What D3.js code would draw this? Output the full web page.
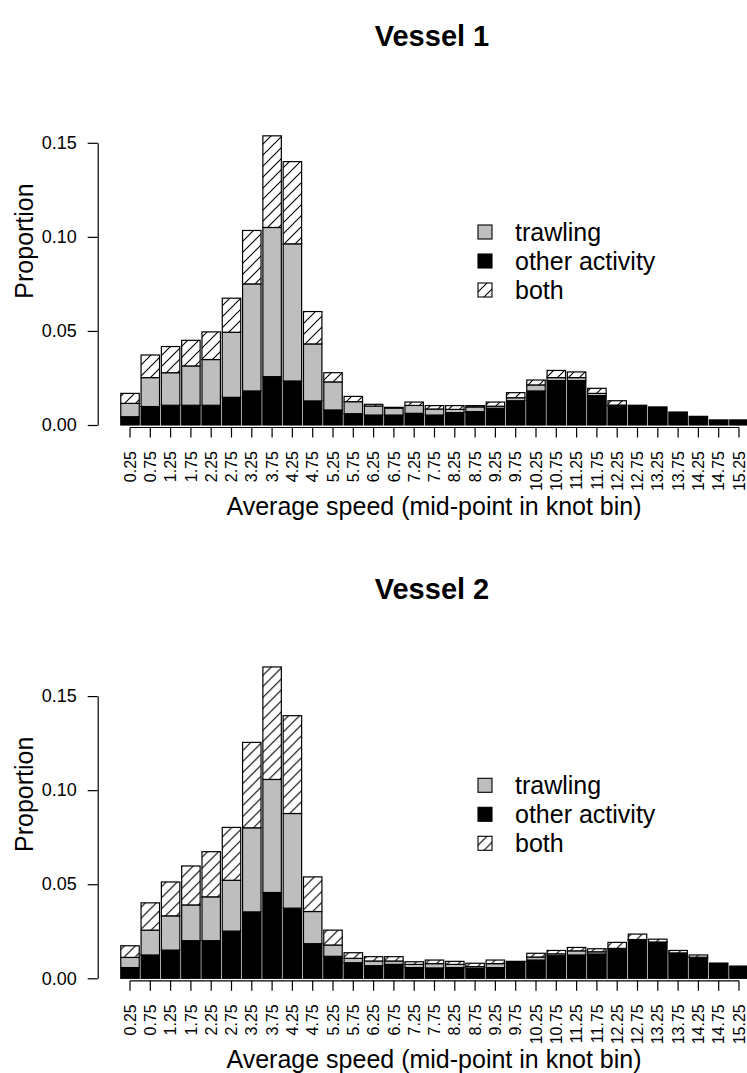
<!DOCTYPE html>
<html lang="en">
<head>
  <meta charset="UTF-8">
  <title>Vessel speed profiles</title>
  <script src="https://d3js.org/d3.v7.min.js"></script>
  <style>
    body {
      margin: 0;
      background: #fff;
      font-family: "Liberation Sans", Arial, sans-serif;
    }

    .axis path,
    .axis line {
      fill: none;
      stroke: #000;
      stroke-width: 1.2;
    }

    .axis text {
      fill: #000;
    }
  </style>
</head>
<body>
  <svg width="747" height="1073"></svg>

  <script>
    const svg = d3.select("svg");

    // speed bins (knots, mid-points)
    const speedBins = ["0.25","0.75","1.25","1.75","2.25","2.75","3.25","3.75","4.25","4.75",
                       "5.25","5.75","6.25","6.75","7.25","7.75","8.25","8.75","9.25","9.75",
                       "10.25","10.75","11.25","11.75","12.25","12.75","13.25","13.75","14.25","14.75","15.25"];

    const yTicks = [0, 0.05, 0.10, 0.15];

    const legendLabels = ["trawling", "other activity", "both"];

    // vessel 1
    const v1Other = [.0044,.0098,.0105,.0105,.0105,.0147,.0181,.0257,.0234,.0128,
                     .0080,.0060,.0053,.0053,.0062,.0053,.0066,.0071,.0089,.0129,
                     .0181,.0236,.0236,.0156,.0101,.0105,.0096,.0069,.0046,.0027,.0027];
    const v1Trawl = [.0071,.0154,.0173,.0209,.0243,.0346,.0569,.0793,.0729,.0303,
                     .0149,.0064,.0048,.0037,.0042,.0032,.0017,.0025,.0011,.0016,
                     .0032,.0016,.0016,.0012,.0005,0,0,0,0,0,0];
    const v1Both  = [.0053,.0120,.0139,.0136,.0147,.0181,.0284,.0487,.0437,.0172,
                     .0049,.0028,.0009,.0004,.0018,.0018,.0020,.0007,.0022,.0027,
                     .0026,.0038,.0030,.0027,.0023,0,0,0,0,0,0];

    // vessel 2
    const v2Other = [.0057,.0124,.0150,.0200,.0200,.0251,.0353,.0456,.0373,.0184,
                     .0117,.0083,.0067,.0074,.0057,.0055,.0057,.0053,.0057,.0088,
                     .0097,.0120,.0124,.0129,.0155,.0203,.0191,.0133,.0111,.0081,.0065];
    const v2Trawl = [.0054,.0132,.0182,.0190,.0233,.0270,.0447,.0601,.0503,.0171,
                     .0060,.0023,.0025,.0018,.0017,.0023,.0017,.0009,.0021,.0001,
                     .0016,.0010,.0022,.0012,.0004,.0003,.0002,.0002,.0001,0,0];
    const v2Both  = [.0062,.0145,.0180,.0207,.0240,.0281,.0454,.0598,.0520,.0184,
                     .0079,.0030,.0023,.0023,.0014,.0019,.0016,.0018,.0019,.0001,
                     .0020,.0018,.0018,.0016,.0032,.0029,.0015,.0013,.0012,0,0];

    const keys = ["other", "trawling", "both"];

    // hatch pattern for "both"
    const defs = svg.append("defs");
    const pat = defs.append("pattern")
      .attr("id", "hatch")
      .attr("patternUnits", "userSpaceOnUse")
      .attr("width", 11).attr("height", 11);
    pat.append("rect").attr("width", 11).attr("height", 11).attr("fill", "#fff");
    pat.append("path")
      .attr("d", "M0,11L11,0M-2,2L2,-2M9,13L13,9")
      .attr("stroke", "#000").attr("stroke-width", 1.1);

    const fill = {other: "#000", trawling: "#bebebe", both: "url(#hatch)"};

    const x = d3.scaleBand()
      .domain(speedBins)
      .range([119.85, 749.15])
      .paddingInner(0.0909)
      .paddingOuter(0.04545);

    function drawPanel(offset, title, other, trawl, both) {
      const g = svg.append("g").attr("transform", `translate(0,${offset})`);

      const y = d3.scaleLinear()
        .domain([0, 0.15])
        .range([425, 142.8]);

      const rows = speedBins.map((b, i) => ({bin: b, other: other[i], trawling: trawl[i], both: both[i]}));
      const series = d3.stack().keys(keys)(rows);

      g.selectAll("g.layer")
        .data(series)
        .enter().append("g")
          .attr("class", "layer")
          .attr("fill", d => fill[d.key])
        .selectAll("rect")
        .data(d => d.filter(p => p[1] - p[0] > 0))
        .enter().append("rect")
          .attr("x", d => x(d.data.bin))
          .attr("width", x.bandwidth())
          .attr("y", d => y(d[1]))
          .attr("height", d => y(d[0]) - y(d[1]))
          .attr("stroke", "#000")
          .attr("stroke-width", 1.2);

      // y axis
      g.append("g")
        .attr("class", "axis")
        .attr("transform", "translate(97.7,0)")
        .call(d3.axisLeft(y).tickValues(yTicks).tickFormat(d3.format(".2f"))
          .tickSize(10).tickSizeOuter(0).tickPadding(11))
        .selectAll("text")
          .attr("font-size", 18);

      // x axis
      const axisY = 427.5;
      const xa = g.append("g")
        .attr("class", "axis")
        .attr("transform", `translate(0,${axisY})`)
        .call(d3.axisBottom(x).tickSize(10).tickSizeOuter(0));
      const first = x(speedBins[0]) + x.bandwidth() / 2;
      const last = x(speedBins[speedBins.length - 1]) + x.bandwidth() / 2;
      xa.select(".domain").attr("d", `M${first},0H${last}`);
      xa.selectAll("text")
        .attr("x", 0).attr("y", 0).attr("dy", "0.35em")
        .attr("font-size", 16)
        .attr("text-anchor", "end")
        .attr("transform", `translate(0,${451 - axisY}) rotate(-90)`);

      // titles
      g.append("text")
        .attr("x", 432).attr("y", 46)
        .attr("text-anchor", "middle")
        .attr("font-size", 29).attr("font-weight", "bold")
        .text(title);
      g.append("text")
        .attr("x", 434).attr("y", 515)
        .attr("text-anchor", "middle")
        .attr("font-size", 25)
        .text("Average speed (mid-point in knot bin)");
      g.append("text")
        .attr("transform", "translate(33,241) rotate(-90)")
        .attr("text-anchor", "middle")
        .attr("font-size", 25)
        .text("Proportion");

      // legend
      const legendFill = ["#bebebe", "#000", "url(#hatch)"];
      const lg = g.append("g");
      legendLabels.forEach((lab, i) => {
        const cy = 232 + i * 29;
        lg.append("rect")
          .attr("x", 478).attr("y", cy - 7)
          .attr("width", 14).attr("height", 14)
          .attr("fill", legendFill[i])
          .attr("stroke", "#000").attr("stroke-width", 1.1);
        lg.append("text")
          .attr("x", 515).attr("y", cy + 9)
          .attr("font-size", 25)
          .text(lab);
      });
    }

    drawPanel(0, "Vessel 1", v1Other, v1Trawl, v1Both);
    drawPanel(553.3, "Vessel 2", v2Other, v2Trawl, v2Both);
  </script>
</body>
</html>
